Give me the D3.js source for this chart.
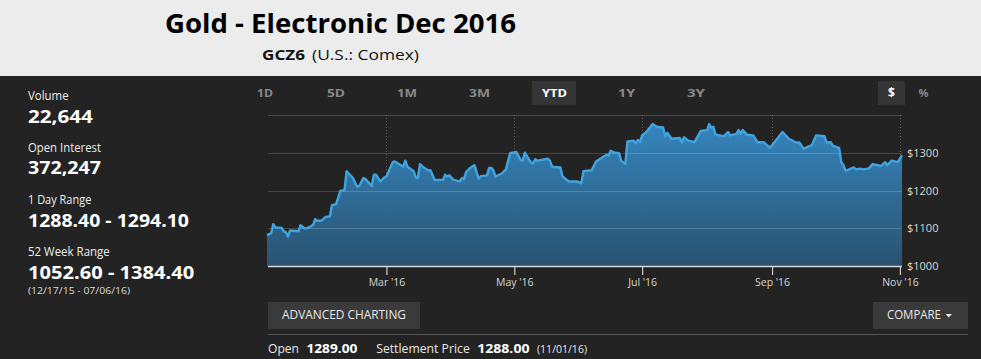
<!DOCTYPE html>
<html><head><meta charset="utf-8">
<script src="https://cdn.jsdelivr.net/npm/d3@7"></script>
<style>html,body{margin:0;padding:0;background:#232323;overflow:hidden}</style>
</head><body>
<svg id="c" width="981" height="359"></svg>
<script>
const dates = ["2016-01-04","2016-01-06","2016-01-07","2016-01-08","2016-01-11","2016-01-12","2016-01-13","2016-01-14","2016-01-15","2016-01-19","2016-01-20","2016-01-22","2016-01-24","2016-01-26","2016-01-27","2016-01-28","2016-01-30","2016-02-01","2016-02-03","2016-02-04","2016-02-06","2016-02-08","2016-02-10","2016-02-11","2016-02-14","2016-02-16","2016-02-17","2016-02-19","2016-02-20","2016-02-23","2016-02-24","2016-02-25","2016-02-27","2016-02-29","2016-03-01","2016-03-04","2016-03-05","2016-03-09","2016-03-10","2016-03-11","2016-03-14","2016-03-15","2016-03-16","2016-03-17","2016-03-19","2016-03-21","2016-03-22","2016-03-24","2016-03-28","2016-03-29","2016-03-30","2016-03-31","2016-04-02","2016-04-05","2016-04-06","2016-04-07","2016-04-08","2016-04-10","2016-04-12","2016-04-14","2016-04-15","2016-04-18","2016-04-19","2016-04-20","2016-04-21","2016-04-22","2016-04-25","2016-04-27","2016-04-29","2016-05-02","2016-05-04","2016-05-05","2016-05-06","2016-05-09","2016-05-10","2016-05-11","2016-05-12","2016-05-17","2016-05-18","2016-05-19","2016-05-23","2016-05-24","2016-05-27","2016-05-31","2016-06-02","2016-06-03","2016-06-07","2016-06-09","2016-06-11","2016-06-14","2016-06-15","2016-06-16","2016-06-18","2016-06-20","2016-06-21","2016-06-23","2016-06-24","2016-06-27","2016-06-28","2016-06-29","2016-06-30","2016-07-01","2016-07-03","2016-07-06","2016-07-08","2016-07-11","2016-07-12","2016-07-13","2016-07-15","2016-07-19","2016-07-20","2016-07-21","2016-07-23","2016-07-26","2016-07-29","2016-08-01","2016-08-02","2016-08-03","2016-08-04","2016-08-05","2016-08-09","2016-08-11","2016-08-12","2016-08-15","2016-08-16","2016-08-17","2016-08-18","2016-08-20","2016-08-23","2016-08-25","2016-08-28","2016-08-30","2016-08-31","2016-09-06","2016-09-09","2016-09-12","2016-09-14","2016-09-16","2016-09-20","2016-09-22","2016-09-26","2016-09-27","2016-09-29","2016-09-30","2016-10-03","2016-10-04","2016-10-05","2016-10-06","2016-10-07","2016-10-10","2016-10-11","2016-10-13","2016-10-14","2016-10-17","2016-10-19","2016-10-23","2016-10-25","2016-10-26","2016-10-28","2016-10-31","2016-11-02"];
const prices = [1081,1087,1111,1102,1101,1092,1090,1078,1094,1092,1108,1099,1102,1109,1124,1120,1120,1130,1131,1161,1164,1199,1201,1251,1233,1210,1212,1233,1230,1212,1242,1242,1224,1235,1237,1275,1277,1263,1279,1263,1251,1235,1233,1270,1260,1253,1254,1228,1228,1242,1237,1240,1228,1224,1233,1230,1249,1260,1267,1231,1238,1240,1260,1260,1254,1237,1245,1256,1299,1302,1281,1279,1300,1274,1272,1283,1279,1284,1279,1263,1261,1237,1224,1224,1219,1251,1254,1277,1284,1295,1293,1305,1300,1299,1279,1270,1330,1332,1325,1334,1328,1346,1355,1376,1369,1367,1343,1353,1337,1339,1327,1341,1332,1328,1358,1360,1376,1366,1369,1348,1344,1355,1346,1350,1360,1351,1360,1348,1346,1328,1328,1318,1313,1355,1337,1328,1327,1311,1320,1346,1344,1327,1328,1318,1313,1275,1268,1253,1254,1261,1256,1258,1256,1258,1270,1265,1275,1267,1279,1275,1293];
const yTickValues = [1000,1100,1200,1300];
const yGridValues = [1100,1200,1300,1400];
const xTickDates = ["2016-03-01","2016-05-01","2016-07-01","2016-09-01","2016-11-01"];
const statLabels = ["Volume","Open Interest","1 Day Range","52 Week Range"];
const statValues = ["22,644","372,247","1288.40 - 1294.10","1052.60 - 1384.40"];
const rangeNote = "(12/17/15 - 07/06/16)";
const tabLabels = ["1D","5D","1M","3M","YTD","1Y","3Y"];
const title = "Gold - Electronic Dec 2016";
const symbol = "GCZ6";
const exchange = "(U.S.: Comex)";

const parse = d3.timeParse("%Y-%m-%d");
const data = dates.map((d,i)=>({date:parse(d), v:prices[i]}));
const FONT = "'Open Sans', 'Noto Sans', sans-serif";
const svg = d3.select("#c");

svg.append("rect").attr("width",981).attr("height",359).attr("fill","#232323");
svg.append("rect").attr("width",981).attr("height",76).attr("fill","#ececec");

function txt(s,x,y,size,weight,color,len,anchor){
  const t = svg.append("text").attr("x",x).attr("y",y).text(s)
    .attr("font-family",FONT).attr("font-size",size).attr("font-weight",weight)
    .attr("fill",color).attr("text-anchor",anchor||"start");
  if(len){ t.attr("textLength",len).attr("lengthAdjust","spacingAndGlyphs"); }
  return t;
}

// header
txt(title,165,33,27,700,"#000",351);
txt(symbol,262,60,15,700,"#111",43);
txt(exchange,312,60,15,400,"#111",107);

// stats
const labY=[100,152,204,256], valY=[122.7,174.3,227.3,279.3];
const labW=[40.6,73,63.3,81.7], valW=[64.7,73,161,166.3];
statLabels.forEach((s,i)=>txt(s,28,labY[i],12,400,"#eee",labW[i]));
statValues.forEach((s,i)=>txt(s,28,valY[i],18.5,700,"#fff",valW[i]));
txt(rangeNote,28,293.5,9.5,400,"#ddd",102);

// tabs
const tabX=[257,327,397,469,542,618,687], tabW=[16,18,20,21,25,17,18];
svg.append("rect").attr("x",532).attr("y",81).attr("width",44).attr("height",24).attr("fill","#353535");
svg.append("rect").attr("x",878).attr("y",81).attr("width",27).attr("height",24).attr("fill","#353535");
tabLabels.forEach((s,i)=>txt(s,tabX[i],97.3,11,700, s==="YTD"?"#fff":"#8a8a8a",tabW[i]));
txt("$",891.5,97.3,12,700,"#fff",null,"middle");
txt("%",923.5,97.3,11,700,"#8a8a8a",null,"middle");

// scales
const x = d3.scaleTime().domain([parse("2016-01-04"),parse("2016-11-02")]).range([267,902]);
const y = d3.scaleLinear().domain([1000,1400]).range([266,115]);

// gradient
const defs = svg.append("defs");
const gr = defs.append("linearGradient").attr("id","g").attr("x1",0).attr("y1",0).attr("x2",0).attr("y2",1);
gr.append("stop").attr("offset","0%").attr("stop-color","#3689c4");
gr.append("stop").attr("offset","100%").attr("stop-color","#2a5473");

const area = d3.area().x(d=>x(d.date)).y0(y(1000)).y1(d=>y(d.v));
const line = d3.line().x(d=>x(d.date)).y(d=>y(d.v));
const plot = svg.append("g");

// vertical dotted grid behind the area
plot.selectAll("line.v").data(xTickDates.map(parse)).join("line")
  .attr("x1",d=>Math.round(x(d))+0.5).attr("x2",d=>Math.round(x(d))+0.5).attr("y1",115).attr("y2",266)
  .attr("stroke","#5a5a5a").attr("stroke-dasharray","1,2");

plot.append("path").datum(data).attr("d",area).attr("fill","url(#g)").attr("fill-opacity",0.96);

// horizontal grid lines on top (semi-transparent)
plot.selectAll("line.h").data(yGridValues).join("line")
  .attr("x1",268).attr("x2",902).attr("y1",d=>Math.round(y(d))+0.5).attr("y2",d=>Math.round(y(d))+0.5)
  .attr("stroke","rgba(255,255,255,0.16)").attr("stroke-width",1);

plot.append("path").datum(data).attr("d",line).attr("fill","none")
  .attr("stroke","#40a4e0").attr("stroke-width",2.4).attr("stroke-linejoin","round");

// x axis
const fmt = d3.timeFormat("%b '%y");
const xa = svg.append("g").attr("transform","translate(0,266)")
  .call(d3.axisBottom(x).tickValues(xTickDates.map(parse)).tickFormat(fmt).tickSize(9).tickPadding(4));
xa.select(".domain").attr("stroke","#d8d8d8").attr("stroke-width",1.5).attr("d","M268,0.5H902");
xa.selectAll(".tick line").attr("stroke","#cfcfcf").attr("stroke-width",1.2);
xa.selectAll(".tick text").attr("fill","#d6d6d6").attr("font-family",FONT).attr("font-size",10.5);

// y axis
const ya = svg.append("g").attr("transform","translate(902,0)")
  .call(d3.axisRight(y).tickValues(yTickValues).tickFormat(d=>"$"+d).tickSize(0).tickPadding(5));
ya.select(".domain").remove();
ya.selectAll(".tick text").attr("fill","#d8d8d8").attr("font-family",FONT).attr("font-size",11);

// buttons
svg.append("rect").attr("x",268).attr("y",302).attr("width",152).attr("height",27).attr("fill","#3a3a3a");
txt("ADVANCED CHARTING",282,318.5,12,400,"#e8e8e8",124);
svg.append("rect").attr("x",873).attr("y",302).attr("width",95).attr("height",27).attr("fill","#3a3a3a");
txt("COMPARE",887,318.5,12,400,"#e8e8e8",54);
svg.append("path").attr("d","M945.5,314H952L948.75,317.5Z").attr("fill","#e8e8e8");
svg.append("line").attr("x1",268).attr("x2",968).attr("y1",334.5).attr("y2",334.5).attr("stroke","#555");

// bottom line
txt("Open",268,353.3,12,400,"#e8e8e8",31);
txt("1289.00",306.4,353.3,12,700,"#fff",51);
txt("Settlement Price",376.2,353.3,12,400,"#e8e8e8",93.6);
txt("1288.00",477.2,353.3,12,700,"#fff",52.3);
txt("(11/01/16)",537,353.3,10,400,"#e8e8e8",50);
</script>
</body></html>
